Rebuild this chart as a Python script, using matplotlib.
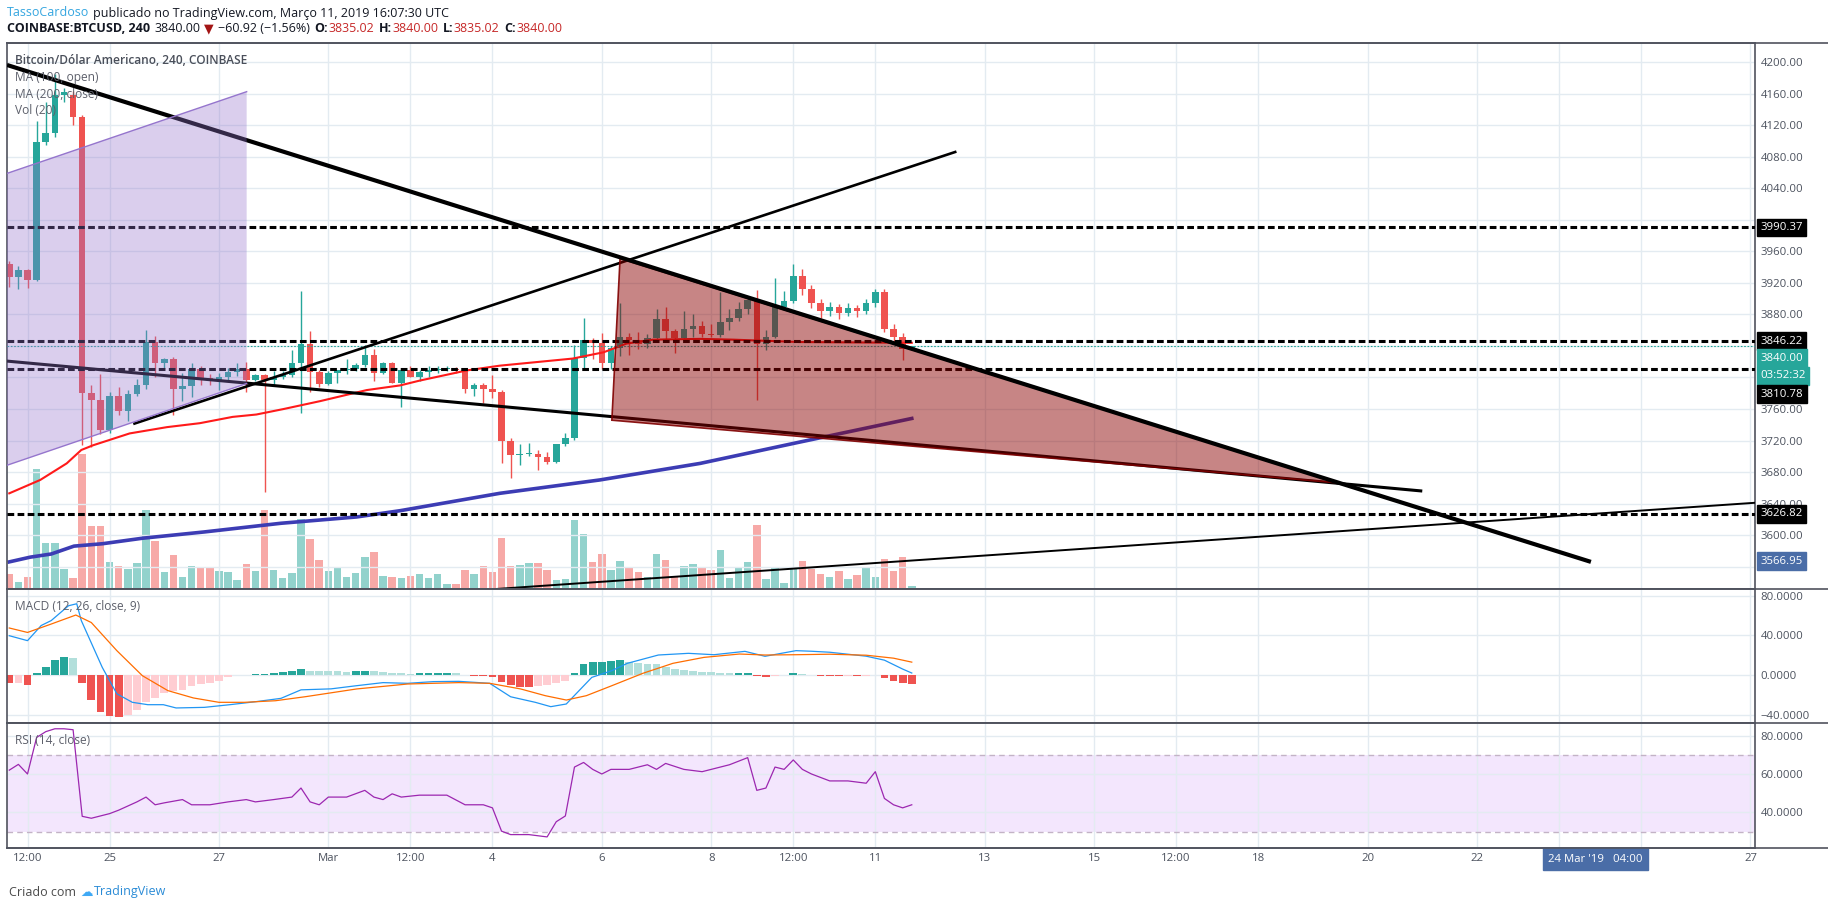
import numpy as np
import matplotlib
matplotlib.use("Agg")
import matplotlib.pyplot as plt
from matplotlib.lines import Line2D
from matplotlib.patches import Polygon
from matplotlib.ticker import FuncFormatter
from matplotlib.transforms import blended_transform_factory as blend

# x axis = 4h candle index, 0 = 23 Feb 2019 04:00
opens = [3944, 3927, 3936, 3924, 4099, 4110, 4158, 4159, 4131, 3780,
         3771, 3733, 3776, 3758, 3779, 3790, 3845, 3818, 3823, 3786,
         3789, 3811, 3799, 3797, 3800, 3807, 3811, 3797, 3803, 3797,
         3800, 3803, 3819, 3842, 3807, 3792, 3806, 3809, 3811, 3816,
         3829, 3806, 3818, 3793, 3809, 3801, 3807, 3809, 3811, 3811,
         3809, 3785, 3790, 3786, 3782, 3720, 3701, 3703, 3703, 3699,
         3693, 3715, 3723, 3825, 3848, 3844, 3818, 3837, 3852, 3847,
         3842, 3850, 3874, 3859, 3850, 3861, 3865, 3855, 3854, 3870,
         3876, 3887, 3898, 3843, 3852, 3889, 3897, 3929, 3912, 3895,
         3884, 3890, 3882, 3888, 3884, 3895, 3908, 3862, 3852, 3835.02]
highs = [3948, 3942, 3938, 4125, 4150, 4185, 4168, 4163, 4133, 3790,
         3805, 3782, 3788, 3784, 3798, 3860, 3853, 3825, 3826, 3806,
         3818, 3814, 3804, 3806, 3812, 3819, 3820, 3805, 3805, 3808,
         3808, 3835, 3910, 3859, 3810, 3808, 3810, 3823, 3819, 3841,
         3836, 3820, 3820, 3810, 3815, 3810, 3815, 3815, 3814, 3813,
         3811, 3793, 3793, 3803, 3784, 3723, 3716, 3717, 3708, 3705,
         3716, 3730, 3841, 3876, 3850, 3857, 3840, 3894, 3856, 3858,
         3855, 3887, 3890, 3862, 3884, 3880, 3872, 3868, 3908, 3887,
         3896, 3902, 3911, 3860, 3926, 3910, 3944, 3938, 3918, 3900,
         3896, 3893, 3894, 3892, 3899, 3912, 3912, 3868, 3856, 3840]
lows = [3915, 3912, 3913, 3922, 4095, 4105, 4150, 4120, 3714, 3712,
        3728, 3730, 3752, 3745, 3777, 3786, 3801, 3812, 3752, 3770,
        3775, 3790, 3790, 3784, 3795, 3802, 3781, 3795, 3655, 3790,
        3798, 3801, 3755, 3782, 3788, 3790, 3793, 3805, 3808, 3813,
        3796, 3804, 3793, 3763, 3800, 3795, 3800, 3806, 3808, 3806,
        3780, 3776, 3767, 3774, 3692, 3673, 3689, 3700, 3683, 3690,
        3692, 3713, 3721, 3811, 3824, 3811, 3811, 3827, 3828, 3836,
        3838, 3846, 3846, 3831, 3847, 3852, 3852, 3851, 3851, 3860,
        3872, 3880, 3771, 3835, 3850, 3887, 3895, 3905, 3888, 3876,
        3878, 3874, 3878, 3877, 3880, 3890, 3858, 3843, 3822, 3835.02]
closes = [3927, 3936, 3924, 4099, 4110, 4158, 4162, 4131, 3780, 3771,
          3733, 3776, 3758, 3779, 3790, 3845, 3818, 3823, 3786, 3789,
          3811, 3799, 3797, 3800, 3807, 3811, 3797, 3803, 3797, 3800,
          3803, 3819, 3842, 3807, 3792, 3806, 3809, 3811, 3816, 3829,
          3806, 3818, 3793, 3809, 3801, 3807, 3809, 3811, 3811.5, 3809,
          3785, 3790, 3786, 3782, 3720, 3701, 3703, 3703.5, 3699, 3693,
          3715, 3723, 3825, 3848, 3844, 3818, 3837, 3852, 3847, 3842,
          3850, 3874, 3859, 3850, 3861, 3865, 3855, 3854, 3870, 3876,
          3887, 3898, 3843, 3852, 3889, 3897, 3929, 3912, 3895, 3884,
          3890, 3882, 3888, 3884, 3895, 3908, 3862, 3852, 3836, 3840]
volumes = [383, 183, 308, 3000, 1150, 1150, 508, 275, 3375, 1583,
           1583, 683, 583, 508, 650, 1983, 1215, 433, 858, 308,
           583, 558, 533, 458, 433, 233, 633, 458, 1983, 483,
           283, 408, 1758, 1258, 733, 458, 558, 308, 408, 808,
           933, 333, 308, 283, 333, 383, 283, 383, 133, 133,
           483, 383, 583, 433, 1283, 583, 608, 658, 658, 483,
           233, 258, 1733, 1383, 683, 883, 483, 708, 558, 433,
           308, 883, 733, 308, 583, 633, 558, 483, 983, 283,
           558, 683, 1608, 258, 558, 158, 558, 708, 500, 375,
           300, 450, 250, 350, 550, 300, 750, 450, 800, 75]

ma100_x = [0, 3.4, 6.3, 7.9, 9.2, 13.2, 17.3, 20.9, 24.5, 27.1, 30.1, 34.1, 39.2,
           42.9, 45, 50.2, 53.8, 61.8, 65.2, 67.7, 70.6, 75.8, 79.4, 86.7, 99]
ma100_y = [3653, 3670, 3691, 3708, 3714, 3729, 3737, 3742, 3750, 3753, 3760, 3770, 3784,
           3790, 3796, 3809, 3815, 3824, 3832, 3843, 3848, 3849, 3848, 3845, 3844]
ma200_x = [0, 2.3, 4.6, 7.1, 10.2, 14.6, 21.4, 29.8, 38.1, 42.9, 53.8, 64.8, 75.8, 86.7, 99]
ma200_y = [3566, 3572, 3576, 3586, 3589, 3596, 3604, 3615, 3623, 3631, 3653, 3670, 3691, 3718, 3748]

macd_hist = [-8.4, -8.0, -9.8, 1.7, 8.4, 15.2, 18.5, 17.5, -8.4, -24.9,
             -37, -41, -42, -40, -35.4, -27.6, -22.9, -18.5, -15.8, -14.8,
             -11.1, -9.1, -8.4, -5.7, -2.4, -0.3, -0.1, 0.7, 1.3, 1.7,
             2.7, 3.7, 6.4, 3.9, 3.8, 3.7, 3.6, 3.5, 3.8, 4.4,
             3.7, 3.4, 1.8, 1.7, 1.0, 1.7, 1.8, 1.9, 2.0, 1.7,
             0.2, -1.0, -1.1, -2.4, -6.7, -9.8, -11.8, -11.9, -10.8, -10.1,
             -8.4, -5.7, 2.4, 10.8, 13.5, 13.6, 13.7, 15.2, 13.5, 12.5,
             11.4, 11.3, 7.7, 6.1, 5.1, 4.4, 3.4, 2.7, 1.7, 1.6,
             2.4, 2.5, -1.0, -1.7, -0.7, 0.1, 1.7, 1.5, 0.5, -0.8,
             -1.0, -1.5, -1.2, -1.5, -1.0, -0.5, -3.5, -6.0, -8.5, -9.0]
macd_x = [0, 2, 3.5, 4.6, 6.5, 7.4, 7.9, 10.2, 11.8, 13.5, 15.2, 16.9, 18.3, 21.4, 24.2,
          27, 29.8, 32, 35.3, 38.1, 41, 43.7, 46.5, 49.3, 52.7, 55, 57.7, 59.4, 61.1,
          63.9, 66.1, 67.8, 71.2, 74.5, 77.3, 80.7, 82.9, 86.3, 88, 90, 92, 94, 96, 98, 99]
macd_y = [39.7, 34.7, 50, 55, 70, 72, 55, 7.7, -19, -27.6, -30, -30, -33.3, -32.7, -30,
          -27, -23.6, -15, -14, -10.8, -7.7, -8.4, -6.7, -6.4, -8.4, -22, -27.6, -32, -29.3,
          -2.4, 4.4, 11.8, 20.2, 21.9, 20.5, 23.9, 18.9, 24.6, 24, 23, 21, 19, 15, 6, 2]
signal_x = [0, 2, 4.6, 7.3, 9, 11.8, 14.6, 17.4, 20.2, 23, 25.8, 29.2, 32.5, 38.1, 43.7,
            49.3, 52.7, 56.1, 58.8, 61.1, 63.3, 66.1, 69.5, 72.8, 76.2, 80.1, 82.9, 86.3,
            90, 94, 97, 99]
signal_y = [47.5, 43, 51.5, 60.6, 53, 24.6, -0.7, -15.8, -23.2, -27.6, -27.6, -26, -21.9,
            -14.1, -9.1, -7.7, -8.4, -14.1, -20.9, -25.3, -20.9, -10.8, 1.7, 11.8, 17.8,
            21.2, 20.2, 20.5, 21, 20, 17, 13]

rsi_x = [0, 1, 2, 3, 4, 5, 6, 7, 8, 9, 11, 12, 14, 15, 16, 17, 19, 20, 22, 24, 26, 27,
         29, 31, 32, 33, 34, 35, 37, 39, 40, 41, 42, 43, 45, 48, 50, 52, 53, 54, 55, 57,
         59, 60, 61, 62, 63, 64, 65, 66, 68, 70, 71, 72, 74, 76, 78, 79, 81, 82, 83, 84,
         85, 86, 87, 88, 90, 92, 94, 95, 96, 97, 98, 99]
rsi_y = [62, 65, 60, 79, 82, 83.5, 83.5, 83, 38, 37, 39.4, 41.2, 45.5, 48, 44, 45, 46.7,
         44, 44, 45.5, 46.7, 45.5, 46.7, 48, 52.7, 45.5, 44, 48, 48, 51.5, 48, 46.7, 49.7,
         48, 49, 49, 44, 44, 42.4, 30.3, 28.5, 28.5, 27.3, 35.2, 38.2, 63.6, 66, 62.4, 60,
         62.4, 62.4, 64.8, 62.4, 65.5, 62.4, 61.2, 63.6, 64.8, 68.5, 51.5, 52.7, 63.6,
         62.4, 67.3, 62.4, 60, 56.4, 56.4, 55.2, 61.2, 47.3, 44, 42.4, 44]

# drawings (candle index, price)
thick_line = [(-0.25, 4196.6), (173.5, 3566.0)]
mid_line = [(-0.25, 3820.8), (155.0, 3655.9)]
rise_line = [(13.6, 3741.0), (103.9, 4086.7)]
low_line = [(53.3, 3531.5), (191.5, 3641.0)]
channel_top = [(-0.25, 4059.0), (26.04, 4162.7)]
channel_bot = [(-0.25, 3688.6), (26.04, 3792.4)]
wedge = [(67.0, 3951.0), (146.0, 3666.0), (66.1, 3745.8)]
levels = [3990.37, 3846.22, 3810.78, 3626.82]
last_price = 3840.00

# gridline positions; the two under the crosshair date box carry no label
tick_pos = [2, 11, 23, 35, 44, 53, 65, 77, 86, 95, 107, 119, 128, 137, 149, 161, 170, 179, 191]
tick_lab = ["12:00", "25", "27", "Mar", "12:00", "4", "6", "8", "12:00", "11", "13", "15",
            "12:00", "18", "20", "22", "", "", "27"]

UP, DOWN = "#26a69a", "#ef5350"
VOL_UP, VOL_DOWN = "#92d2cc", "#f7a9a7"
GRID, BORDER, TXT = "#e3ebf1", "#50535e", "#4c525e"
TAG_BLUE = "#4a6da7"
W, H = 1828, 910
L_PX, R_PX = 7, 1755

plt.rcParams["font.family"] = ["Open Sans", "DejaVu Sans"]
fig = plt.figure(figsize=(W / 100, H / 100), dpi=100)


def box(top, bottom):
    return [L_PX / W, 1 - bottom / H, (R_PX - L_PX) / W, (bottom - top) / H]


ax = fig.add_axes(box(43.3, 589.3))
ax_vol = ax.twinx()
ax_macd = fig.add_axes(box(589.3, 723), sharex=ax)
ax_rsi = fig.add_axes(box(723, 847.5), sharex=ax)

ax_vol.set_zorder(ax.get_zorder() - 1)
ax.patch.set_visible(False)
ax_vol.patch.set_facecolor("white")
ax_vol.set_yticks([])
for s in ax_vol.spines.values():
    s.set_visible(False)

for a in (ax, ax_macd, ax_rsi):
    for s in a.spines.values():
        s.set_color(BORDER)
        s.set_linewidth(1.2)
    a.yaxis.tick_right()
    a.tick_params(length=0, labelsize=8.2, labelcolor=TXT, pad=4)
    a.grid(True, color=GRID, lw=1)
    a.set_axisbelow(True)
    a.set_xticks(tick_pos)
ax.tick_params(labelbottom=False)
ax_macd.tick_params(labelbottom=False)
ax_rsi.set_xticklabels(tick_lab)
ax.set_xlim(-0.25, 191.5)

# ---- price panel ----
x = np.arange(len(opens))
o, h, l, c = map(np.array, (opens, highs, lows, closes))
up = c >= o
col = np.where(up, UP, DOWN)
ax.vlines(x, l, h, colors=col, lw=1, zorder=2)
ax.bar(x, np.maximum(np.abs(c - o), 1.3), bottom=np.minimum(o, c), width=0.72,
       color=col, zorder=2.1)
ax_vol.bar(x, volumes, width=0.82, color=np.where(up, VOL_UP, VOL_DOWN))
ax_vol.set_ylim(0, 13650)

ax.plot(ma100_x, ma100_y, color="#ff1a1a", lw=1.5, zorder=2.5)
ax.plot(ma200_x, ma200_y, color="#3c3cb4", lw=2.6, zorder=2.5)
ax.axhline(last_price, color=UP, lw=0.8, ls=(0, (1.5, 1.5)), zorder=2.8)
for lv in levels:
    ax.axhline(lv, color="black", lw=2.2, ls=(0, (2.2, 1.1)), zorder=3)

for seg, lw, z in ((mid_line, 2.2, 3.2), (rise_line, 1.9, 3.2), (low_line, 1.4, 3.2),
                   (thick_line, 3.0, 5)):
    (x0, y0), (x1, y1) = seg
    ax.plot([x0, x1], [y0, y1], color="black", lw=lw, zorder=z, solid_capstyle="butt")

ax.add_patch(Polygon(wedge, closed=True, fc=(0.545, 0, 0, 0.48), ec=(0.5, 0, 0, 0.9),
                     lw=1.2, zorder=4))
chan = channel_top + channel_bot[::-1]
ax.add_patch(Polygon(chan, closed=True, fc="#9575cd", alpha=0.35, lw=0, zorder=6))
for seg in (channel_top, channel_bot):
    ax.plot([p[0] for p in seg], [p[1] for p in seg], color="#9575cd", lw=1, zorder=6.1)

ax.set_ylim(3531.2, 4224.1)
ax.set_yticks(np.arange(3560, 4201, 40))
hidden = {4000, 3840, 3800, 3560}
ax.yaxis.set_major_formatter(FuncFormatter(
    lambda v, p: "" if int(round(v)) in hidden else f"{v:.2f}"))


def tag(a, y, text, fc):
    a.annotate(text, xy=(1, y), xycoords=blend(a.transAxes, a.transData),
               xytext=(4, 0), textcoords="offset points", ha="left", va="center",
               fontsize=8.2, color="white", annotation_clip=False, zorder=10,
               bbox=dict(boxstyle="square,pad=0.3", fc=fc, ec=fc))


tag(ax, levels[0], f"{levels[0]:.2f}", "black")
tag(ax, levels[1], f"{levels[1]:.2f}", "black")
tag(ax, 3824.5, f"{last_price:.2f}", UP)
tag(ax, 3802.3, "03:52:32", UP)
tag(ax, 3778.8, f"{levels[2]:.2f}", "black")
tag(ax, levels[3], f"{levels[3]:.2f}", "black")
tag(ax, 3566.95, "3566.95", TAG_BLUE)

# ---- MACD ----
hist = np.array(macd_hist)
prev = np.concatenate([[0], hist[:-1]])
hcol = np.where(hist >= 0, np.where(hist >= prev, "#26a69a", "#b2dfdb"),
                np.where(hist <= prev, "#ef5350", "#ffcdd2"))
ax_macd.bar(x, hist, width=0.85, color=hcol, zorder=2)
ax_macd.plot(macd_x, macd_y, color="#2196f3", lw=0.9, zorder=3)
ax_macd.plot(signal_x, signal_y, color="#ff6d00", lw=0.9, zorder=3)
ax_macd.set_ylim(-48.5, 86.6)
ax_macd.set_yticks([-40, 0, 40, 80])
ax_macd.yaxis.set_major_formatter(FuncFormatter(lambda v, p: f"{v:.4f}".replace("-", "\u2212")))

# ---- RSI ----
ax_rsi.axhspan(30, 70, color="#f3e6fd", zorder=0.5, lw=0)
for lv in (30, 70):
    ax_rsi.axhline(lv, color="#c3b3c6", lw=1, ls=(0, (4, 3)), zorder=1)
ax_rsi.plot(rsi_x, rsi_y, color="#9c27b0", lw=0.9, zorder=3)
ax_rsi.set_ylim(21.8, 86.5)
ax_rsi.set_yticks([40, 60, 80])
ax_rsi.yaxis.set_major_formatter(FuncFormatter(lambda v, p: f"{v:.4f}"))
ax_rsi.annotate("24 Mar '19   04:00", xy=(174, 0), xycoords=blend(ax_rsi.transData, ax_rsi.transAxes),
                xytext=(0, -8.3), textcoords="offset points", ha="center", va="center",
                fontsize=8.2, color="white", annotation_clip=False,
                bbox=dict(boxstyle="square,pad=0.45", fc=TAG_BLUE, ec=TAG_BLUE))

# borders running across the price column
for yy in (43.3, 589.3, 723, 847.5):
    fig.add_artist(Line2D([L_PX / W, 1], [1 - yy / H] * 2, color=BORDER, lw=1.2))

# ---- texts ----
def fy(px):
    return 1 - px / H


def chain(x_px, y_px, parts, size=9):
    first, style = parts[0]
    prev = fig.text(x_px / W, fy(y_px), first, va="center", ha="left", fontsize=size, **style)
    for gap, s, st in parts[1:]:
        prev = ax.annotate(s, xy=(1, 0.5), xycoords=prev, xytext=(gap, 0),
                           textcoords="offset points", va="center", ha="left",
                           fontsize=size, annotation_clip=False, **st)


dark = {"color": "#131722"}
red = {"color": "#c62828"}
bold = {"color": "#131722", "fontweight": "bold"}
chain(7, 13, [("TassoCardoso", {"color": "#35a6e0"}),
              (3, "publicado no TradingView.com, Março 11, 2019 16:07:30 UTC", dark)])
chain(7, 29, [("COINBASE:BTCUSD, 240", bold), (3, "3840.00", dark),
              (3, "\u25bc", {"color": "#a31515"}), (3, "\u221260.92 (\u22121.56%)", dark),
              (3, "O:", bold), (0.5, "3835.02", red), (3, "H:", bold), (0.5, "3840.00", red),
              (3, "L:", bold), (0.5, "3835.02", red), (3, "C:", bold), (0.5, "3840.00", red)])

fig.text(15 / W, fy(60.7), "Bitcoin/Dólar Americano, 240, COINBASE", fontsize=8.6,
         fontweight="semibold", color="#4a4f5a", va="center", zorder=20)
for yy, s in ((77.7, "MA (100, open)"), (94.3, "MA (200, close)"), (111, "Vol (20)")):
    fig.text(15 / W, fy(yy), s, fontsize=8.6, color="#5d606b", va="center", zorder=20)
fig.text(15 / W, fy(606.7), "MACD (12, 26, close, 9)", fontsize=8.6, color="#5d606b", va="center")
fig.text(15 / W, fy(740.7), "RSI (14, close)", fontsize=8.6, color="#5d606b", va="center")

chain(9, 892, [("Criado com", {"color": "#4a4a4a"}),
               (3, "\u2601", {"color": "#3fa9f5", "family": "DejaVu Sans"}),
               (1, "TradingView", {"color": "#2a8bd6"})])

fig.savefig("out.png", dpi=100, facecolor="white")
